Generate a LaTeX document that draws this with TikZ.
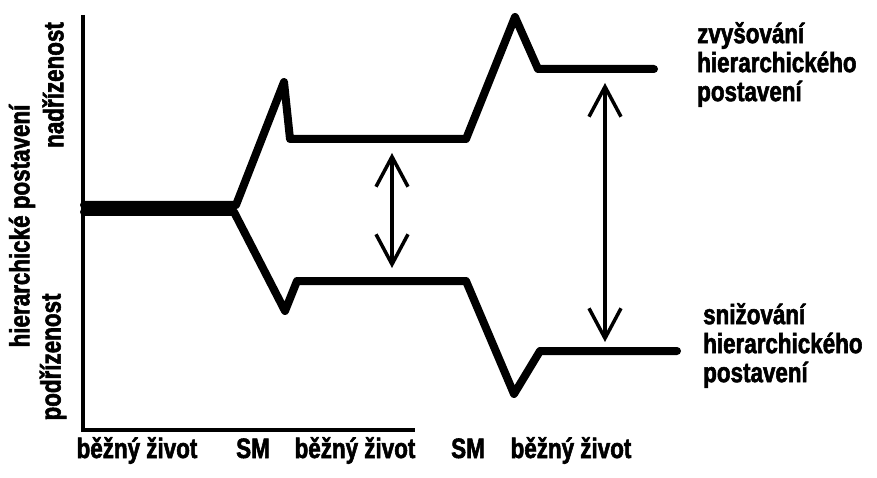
\documentclass[tikz,border=0pt]{standalone}
\usepackage{fontspec}
\newfontfamily\lblfont{Liberation Sans}[UprightFont=* Bold, FakeStretch=0.8, FakeBold=2]
\usetikzlibrary{arrows.meta}
\tikzset{
  axis/.style={line width=4.5pt},
  track/.style={line width=8pt, line join=round, line cap=round},
  gap/.style={line width=3.5pt, {Straight Barb[length=30pt,width=32pt]}-{Straight Barb[length=30pt,width=32pt]}},
  lbl/.style={font=\fontsize{28}{29}\lblfont, inner sep=0pt}
}
\begin{document}
\begin{tikzpicture}[x=1pt,y=-1pt]
\useasboundingbox (0,0) rectangle (877,478);
% Axes
\draw[axis] (83,15) -- (83,430) -- (415,430);

% Raised position
\draw[track] (84,205) -- (236,205) -- (284,82) -- (290,139) -- (466,139)
  -- (515,17) -- (538,69) -- (654,69);

% Lowered position
\draw[track] (84,212) -- (234,212) -- (285,311) -- (297,281) -- (466,281)
  -- (514,394) -- (540,351) -- (677,351);

% Gaps between the two
\coordinate (gapAtop) at (392,153);
\coordinate (gapAbot) at (392,268);
\draw[gap] (gapAtop) -- (gapAbot);
\coordinate (gapBtop) at (605,83);
\coordinate (gapBbot) at (605,342);
\draw[gap] (gapBtop) -- (gapBbot);

% Right labels
\node[lbl, anchor=north west, align=left] (raised) at (697,22) {zvyšování\\hierarchického\\postavení};
\node[lbl, anchor=north west, align=left] (lowered) at (703,303) {snižování\\hierarchického\\postavení};

% Time labels
\node[lbl, anchor=base] (life1) at (137,458) {běžný život};
\node[lbl, anchor=base] (sm1) at (253,458) {SM};
\node[lbl, anchor=base] (life2) at (355,458) {běžný život};
\node[lbl, anchor=base] (sm2) at (468,458) {SM};
\node[lbl, anchor=base] (life3) at (571,458) {běžný život};

% Vertical axis labels
\node[lbl, rotate=90] (ytitle) at (22,226) {hierarchické postavení};
\node[lbl, rotate=90] (ytop) at (53,85) {nadřízenost};
\node[lbl, rotate=90] (ybot) at (53,357) {podřízenost};
\end{tikzpicture}
\end{document}
